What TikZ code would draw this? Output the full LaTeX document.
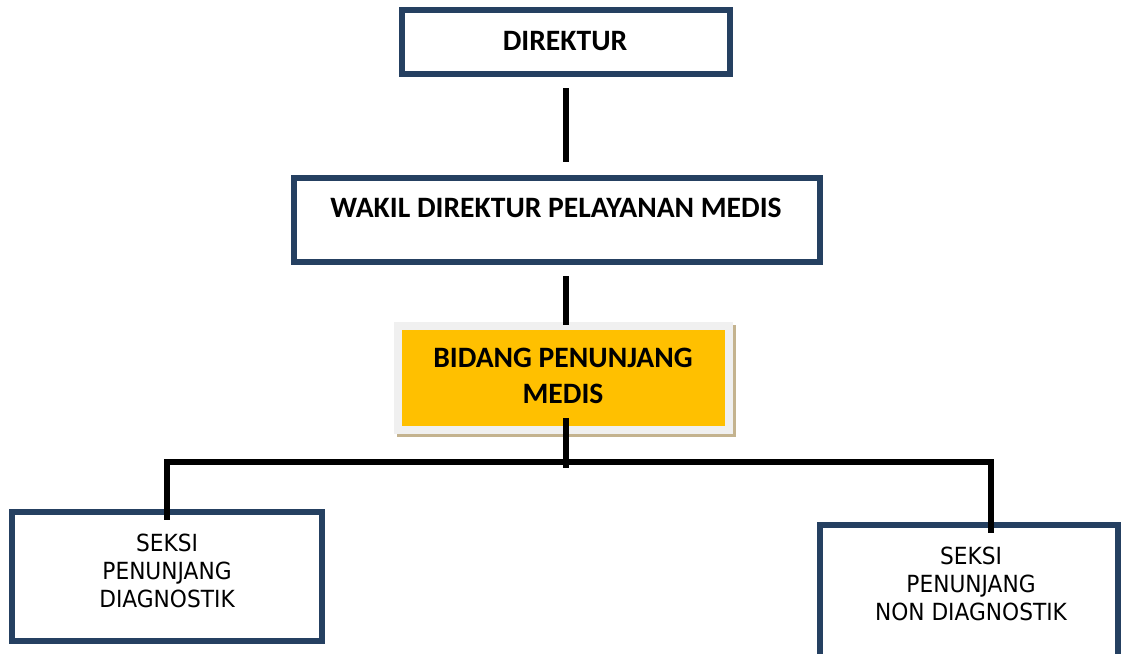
\documentclass[tikz,border=0pt]{standalone}
\usepackage{fontspec}
\usetikzlibrary{calc}
\newfontfamily\boldf{Carlito}
\newfontfamily\regf[FakeStretch=0.92]{DejaVu Sans}
\definecolor{navy}{HTML}{254061}
\definecolor{gold}{HTML}{FFC000}
\definecolor{paleframe}{HTML}{F0F0F0}
\definecolor{shadowtan}{HTML}{C4B38F}
\pgfdeclarelayer{bg}
\pgfsetlayers{bg,main}
\tikzset{
  box/.style={draw=navy, line width=6pt, fill=white, rectangle, inner sep=0pt},
  btext/.style={font=\boldf\bfseries\fontsize{29.6}{36}\selectfont, align=center, inner sep=0pt, text=black},
  rtext/.style={font=\regf\fontsize{23.6}{28}\selectfont, align=center, inner sep=0pt, text=black},
  conn/.style={draw=black, line width=6pt},
}
\begin{document}
\begin{tikzpicture}[x=1pt,y=-1pt]
\useasboundingbox (0,0) rectangle (1121,653);
% boxes
\node[box, minimum width=328pt, minimum height=64pt] (dir) at (565.5,42) {};
\node[box, minimum width=526pt, minimum height=84pt] (wak) at (557,220) {};
\node[rectangle, draw=paleframe, fill=gold, line width=8pt, inner sep=0pt,
      minimum width=331pt, minimum height=104pt] (yel) at (563.5,378) {};
\node[box, minimum width=310pt, minimum height=129pt] (lb) at (167,576.5) {};
\node[box, minimum width=298pt, minimum height=140pt] (rb) at (969,595) {};
\begin{pgfonlayer}{bg}
\fill[shadowtan] ($(yel.south west)+(3,3)$) rectangle ($(yel.north east)+(3,3)$);
\end{pgfonlayer}
% texts
\node[btext] (dirT) at (565,41) {DIREKTUR};
\node[btext] (wakT) at (556,208) {WAKIL DIREKTUR PELAYANAN MEDIS};
\node[btext] (yelT) at (563,376) {BIDANG PENUNJANG\\MEDIS};
\node[rtext] (lbT) at (167,571) {SEKSI\\PENUNJANG\\DIAGNOSTIK};
\node[rtext] (rbT) at (971,584) {SEKSI\\PENUNJANG\\NON DIAGNOSTIK};
% connectors
\coordinate (bus) at (566,462);
\coordinate (busL) at (167,462);
\coordinate (busR) at (991,462);
\draw[conn] ($(dir.south)+(0.5,11)$) -- ($(dir.south |- wak.north)+(0.5,-13)$);
\draw[conn] ($(wak.south -| bus)+(0,11)$) -- ($(yel.north -| bus)+(0,3)$);
\draw[conn] ($(yel.south -| bus)+(0,-16)$) -- ($(bus)+(0,6)$);
\draw[conn, line cap=rect] (busL) -- (busR);
\draw[conn, line cap=rect] (busL) -- ($(busL |- lb.north)+(0,8)$);
\draw[conn, line cap=rect] (busR) -- ($(busR |- rb.north)+(0,8)$);
\end{tikzpicture}
\end{document}
